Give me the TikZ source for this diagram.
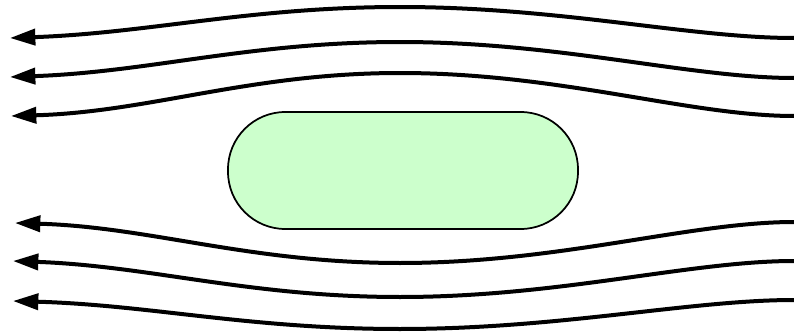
\documentclass[tikz,border=0pt]{standalone}
\usetikzlibrary{arrows.meta}
\definecolor{bodygreen}{HTML}{CCFFCC}
\tikzset{
  stream/.style={line width=3pt, -{Triangle[length=19pt,width=12pt]}},
  body/.style={draw=black, line width=1.3pt, fill=bodygreen, rounded corners=43pt}
}
\begin{document}
\begin{tikzpicture}[x=0.75pt,y=-0.75pt]
\useasboundingbox (0,0) rectangle (794,332);
\path[body] (228,112) rectangle (578,229);
% upper streamlines
\draw[stream] (794,38) .. controls (690,38) and (560,7) .. (400,7) .. controls (250,7) and (150,33) .. (10,38);
\draw[stream] (794,78) .. controls (690,78) and (560,42) .. (400,42) .. controls (250,42) and (150,72) .. (10,77);
\draw[stream] (794,116) .. controls (690,116) and (560,73) .. (400,73) .. controls (250,73) and (150,112) .. (11,116);
% lower streamlines
\draw[stream] (794,222) .. controls (690,222) and (560,263) .. (400,263) .. controls (250,263) and (150,227) .. (15,223);
\draw[stream] (794,261) .. controls (690,261) and (560,297) .. (400,297) .. controls (250,297) and (150,266) .. (13,261);
\draw[stream] (794,300) .. controls (690,300) and (560,329) .. (400,329) .. controls (250,329) and (150,305) .. (13,301);
\end{tikzpicture}
\end{document}
